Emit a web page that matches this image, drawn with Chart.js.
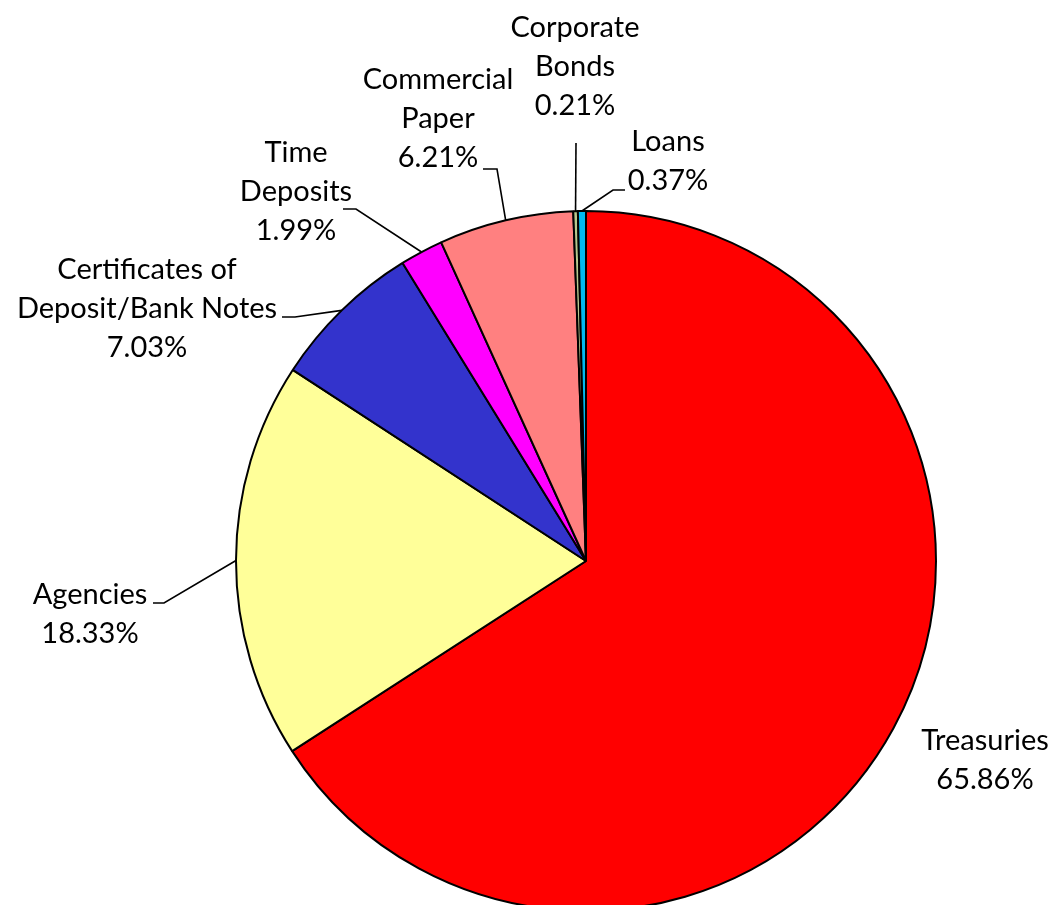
<!DOCTYPE html>
<html>
<head>
<meta charset="utf-8">
<script src="https://cdn.jsdelivr.net/npm/chart.js@4.4.1/dist/chart.umd.min.js"></script>
<style>
  html, body { margin: 0; padding: 0; background: #fff; overflow: hidden; }
  #wrap { width: 1052px; height: 905px; overflow: hidden; }
</style>
</head>
<body>
<div id="wrap"><canvas id="chart1" width="1052" height="912"></canvas></div>
<script>
// data
const categories = ['Treasuries', 'Agencies', 'Certificates of\nDeposit/Bank Notes', 'Time\nDeposits',
  'Commercial\nPaper', 'Corporate\nBonds', 'Loans'];
const shares = [65.86, 18.33, 7.03, 1.99, 6.21, 0.21, 0.37];
const sliceColors = ['#FF0000', '#FFFF99', '#3333CC', '#FF00FF', '#FF8080', '#B8C88E', '#00B8F0'];

// where each label sits (center of first text line) and the elbow of its leader line
const labelLayout = [
  { x: 985, y: 741, leader: null },
  { x: 90, y: 595, leader: [[153, 603], [164, 603]] },
  { x: 147, y: 270, leader: [[282, 317], [295, 317]] },
  { x: 296, y: 153, leader: [[343, 209], [356, 209]] },
  { x: 438, y: 80, leader: [[483, 169], [497, 169]] },
  { x: 575, y: 28, leader: [[576, 143]] },
  { x: 668, y: 142, leader: [[625, 190], [613, 190]] }
];

const FONT = '29px Lato, "Open Sans", sans-serif';
const LINE_H = 38.7;

const outsideLabels = {
  id: 'outsideLabels',
  afterDatasetsDraw(chart) {
    const ctx = chart.ctx;
    const meta = chart.getDatasetMeta(0);
    ctx.save();
    ctx.strokeStyle = '#000';
    ctx.lineWidth = 1.6;
    meta.data.forEach((arc, i) => {
      const lay = labelLayout[i];
      if (lay.leader) {
        const mid = (arc.startAngle + arc.endAngle) / 2;
        const ax = arc.x + Math.cos(mid) * arc.outerRadius;
        const ay = arc.y + Math.sin(mid) * arc.outerRadius;
        ctx.beginPath();
        ctx.moveTo(lay.leader[0][0], lay.leader[0][1]);
        for (let k = 1; k < lay.leader.length; k++) ctx.lineTo(lay.leader[k][0], lay.leader[k][1]);
        ctx.lineTo(ax, ay);
        ctx.stroke();
      }
      const lines = categories[i].split('\n').concat([shares[i].toFixed(2) + '%']);
      ctx.fillStyle = '#000';
      ctx.font = FONT;
      ctx.textAlign = 'center';
      ctx.textBaseline = 'middle';
      lines.forEach((t, j) => ctx.fillText(t, lay.x, lay.y + j * LINE_H));
    });
    ctx.restore();
  }
};

new Chart(document.getElementById('chart1').getContext('2d'), {
  type: 'pie',
  data: {
    labels: categories.map(c => c.replace('\n', ' ')),
    datasets: [{
      data: shares,
      backgroundColor: sliceColors,
      borderColor: '#000',
      borderWidth: 2
    }]
  },
  options: {
    responsive: false,
    animation: false,
    radius: 350,
    layout: { padding: { left: 236, right: 116, top: 211, bottom: 1 } },
    plugins: { legend: { display: false }, tooltip: { enabled: false } }
  },
  plugins: [outsideLabels]
});
</script>
</body>
</html>
